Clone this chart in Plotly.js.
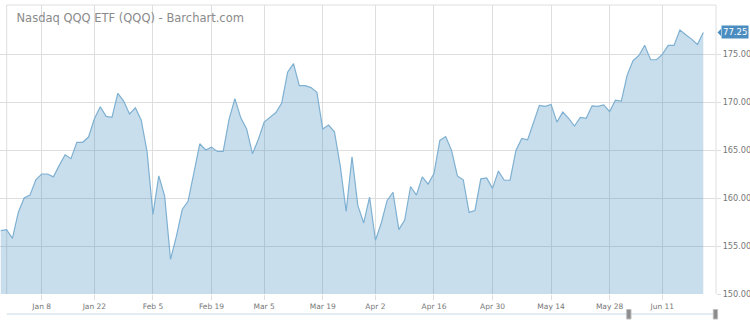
<!DOCTYPE html>
<html>
<head>
<meta charset="utf-8">
<script src="https://cdn.plot.ly/plotly-3.0.1.min.js"></script>
<style>
html,body{margin:0;padding:0;background:#fff;}
#chart{width:750px;height:324px;}
</style>
</head>
<body>
<div id="chart"></div>
<script>
const dates = [
'2017-12-27','2017-12-28','2017-12-29',
'2018-01-02','2018-01-03','2018-01-04','2018-01-05',
'2018-01-08','2018-01-09','2018-01-10','2018-01-11','2018-01-12',
'2018-01-16','2018-01-17','2018-01-18','2018-01-19',
'2018-01-22','2018-01-23','2018-01-24','2018-01-25','2018-01-26',
'2018-01-29','2018-01-30','2018-01-31',
'2018-02-01','2018-02-02',
'2018-02-05','2018-02-06','2018-02-07','2018-02-08','2018-02-09',
'2018-02-12','2018-02-13','2018-02-14','2018-02-15','2018-02-16',
'2018-02-20','2018-02-21','2018-02-22','2018-02-23',
'2018-02-26','2018-02-27','2018-02-28',
'2018-03-01','2018-03-02',
'2018-03-05','2018-03-06','2018-03-07','2018-03-08','2018-03-09',
'2018-03-12','2018-03-13','2018-03-14','2018-03-15','2018-03-16',
'2018-03-19','2018-03-20','2018-03-21','2018-03-22','2018-03-23',
'2018-03-26','2018-03-27','2018-03-28','2018-03-29',
'2018-04-02','2018-04-03','2018-04-04','2018-04-05','2018-04-06',
'2018-04-09','2018-04-10','2018-04-11','2018-04-12','2018-04-13',
'2018-04-16','2018-04-17','2018-04-18','2018-04-19','2018-04-20',
'2018-04-23','2018-04-24','2018-04-25','2018-04-26','2018-04-27',
'2018-04-30',
'2018-05-01','2018-05-02','2018-05-03','2018-05-04',
'2018-05-07','2018-05-08','2018-05-09','2018-05-10','2018-05-11',
'2018-05-14','2018-05-15','2018-05-16','2018-05-17','2018-05-18',
'2018-05-21','2018-05-22','2018-05-23','2018-05-24','2018-05-25',
'2018-05-29','2018-05-30','2018-05-31',
'2018-06-01',
'2018-06-04','2018-06-05','2018-06-06','2018-06-07','2018-06-08',
'2018-06-11','2018-06-12','2018-06-13','2018-06-14','2018-06-15',
'2018-06-18','2018-06-19','2018-06-20'
];
const closes = [
156.6,156.7,155.8,
158.5,160.0,160.3,161.9,
162.5,162.5,162.2,163.4,164.5,
164.1,165.8,165.8,166.35,
168.25,169.5,168.5,168.4,170.9,
170.1,168.75,169.4,
168.1,164.8,
158.3,162.3,160.2,153.6,156.0,
158.8,159.65,162.6,165.65,165.0,
165.3,164.85,164.85,168.2,
170.35,168.35,167.2,
164.6,166.1,
167.9,168.4,168.9,169.9,173.1,
174.0,171.7,171.7,171.5,171.0,
167.2,167.6,166.9,163.3,158.6,
164.3,159.2,157.4,160.1,
155.6,157.4,159.75,160.6,156.7,
157.7,161.2,160.3,162.2,161.45,
162.55,166.0,166.4,164.96,162.3,
161.9,158.5,158.7,162.0,162.1,
161.0,
162.8,161.85,161.85,164.96,
166.2,166.07,167.9,169.65,169.55,
169.75,167.9,168.95,168.3,167.5,
168.4,168.3,169.6,169.55,169.7,
169.0,170.2,170.1,
172.8,
174.3,174.85,175.9,174.4,174.4,
174.96,175.9,175.9,177.5,177.0,
176.55,176.0,177.25
];
const tickDates = ['2018-01-08','2018-01-22','2018-02-05','2018-02-20','2018-03-05','2018-03-19','2018-04-02','2018-04-16','2018-04-30','2018-05-14','2018-05-29','2018-06-11'];
const tickLabels = ['Jan 8','Jan 22','Feb 5','Feb 19','Mar 5','Mar 19','Apr 2','Apr 16','Apr 30','May 14','May 28','Jun 11'];
const yTicks = [150,155,160,165,170,175];
const titleText = 'Nasdaq QQQ ETF (QQQ) - Barchart.com';
const lastLabel = '77.25';

const gridC = '#dedede';
const leftPx = 6.7, plotW = 716, plotH = 289, plotB = 294;
const lx = leftPx/plotW;
const py = p => (plotB - p)/plotH;
const last = closes[closes.length-1];
const pxPerUnit = 9.6;

const trace = {
  type:'scatter', mode:'lines', x:dates, y:closes,
  line:{color:'#7eb0d2', width:1.2},
  fill:'tozeroy', fillcolor:'rgba(60,135,185,0.28)',
  hoverinfo:'x+y'
};

const layout = {
  width:750, height:324,
  margin:{l:0, r:750-plotW, t:5, b:324-plotB},
  paper_bgcolor:'#fff', plot_bgcolor:'#fff',
  showlegend:false,
  font:{family:'DejaVu Sans, sans-serif', color:'#777'},
  title:{text:titleText, font:{size:11.5, color:'#8a8a8a', family:'DejaVu Sans, sans-serif'},
    xref:'container', yref:'container', x:16.5/750, xanchor:'left', y:1-18/324, yanchor:'middle'},
  xaxis:{type:'category', range:[-0.123, 122.17], tickmode:'array', tickvals:tickDates, ticktext:tickLabels,
    showgrid:true, gridcolor:gridC, gridwidth:1, ticks:'outside', ticklen:5, tickcolor:gridC,
    tickfont:{size:7.5, color:'#777'}, showline:false, zeroline:false, fixedrange:true},
  yaxis:{side:'right', range:[150, 150+plotH/pxPerUnit], tickmode:'array', tickvals:yTicks,
    tickformat:'.2f', showgrid:true, gridcolor:gridC, gridwidth:1, ticks:'outside', ticklen:4,
    tickcolor:gridC, tickfont:{size:8.2, color:'#777'}, showline:false, zeroline:false, fixedrange:true},
  shapes:[
    {type:'rect', xref:'paper', yref:'paper', x0:0, x1:lx, y0:0, y1:1, fillcolor:'#fff', line:{width:0}, layer:'below'},
    {type:'line', xref:'paper', yref:'paper', x0:lx, x1:lx, y0:0, y1:1, line:{color:gridC, width:1}, layer:'below'},
    {type:'line', xref:'paper', yref:'paper', x0:lx, x1:1, y0:1, y1:1, line:{color:gridC, width:1}, layer:'below'},
    {type:'line', xref:'paper', yref:'paper', x0:1, x1:1, y0:0, y1:1, line:{color:gridC, width:1}, layer:'below'},
    {type:'line', xref:'paper', yref:'paper', x0:lx, x1:1, y0:py(314), y1:py(314), line:{color:'#e2ecf3', width:2}},
    {type:'rect', xref:'paper', yref:'paper', x0:626.7/plotW, x1:631/plotW, y0:py(309.5), y1:py(319), fillcolor:'#8c8c8c', line:{color:'#bdbdbd', width:1}},
    {type:'rect', xref:'paper', yref:'paper', x0:713.3/plotW, x1:717.6/plotW, y0:py(309.5), y1:py(319), fillcolor:'#8c8c8c', line:{color:'#bdbdbd', width:1}},
    {type:'path', xref:'paper', yref:'y',
     path:'M '+(717.5/plotW)+','+last+' L '+(721/plotW)+','+(last+3.5/pxPerUnit)+' L '+(721/plotW)+','+(last-3.5/pxPerUnit)+' Z',
     fillcolor:'#4b8dc0', line:{width:0}}
  ],
  annotations:[
    {xref:'paper', yref:'y', x:734.5/plotW, y:last, text:lastLabel, showarrow:false,
     font:{size:8.5, color:'#fff', family:'DejaVu Sans, sans-serif'}, bgcolor:'#4b8dc0', borderpad:1, xanchor:'center', yanchor:'middle'}
  ]
};

Plotly.newPlot('chart', [trace], layout, {displayModeBar:false, staticPlot:true});
</script>
</body>
</html>
